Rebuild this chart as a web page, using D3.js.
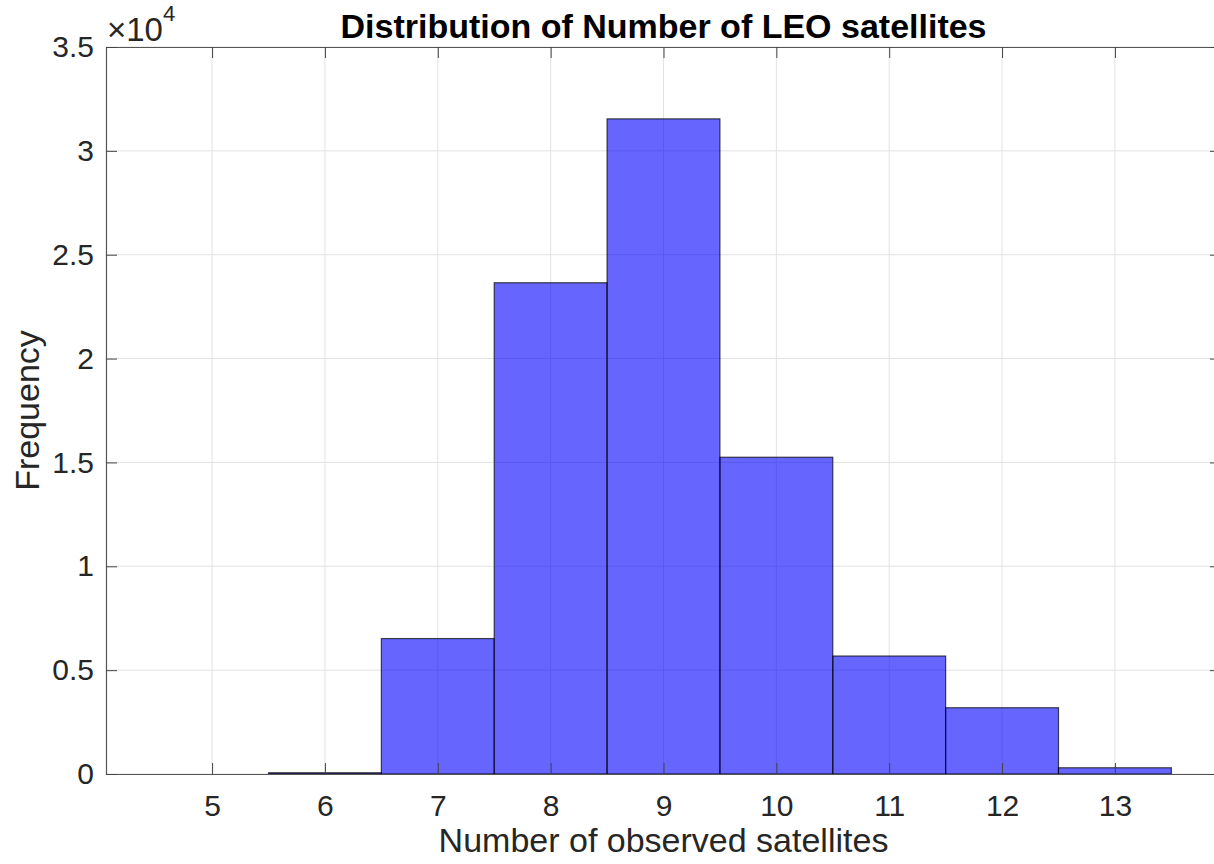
<!DOCTYPE html>
<html lang="en">
<head>
  <meta charset="UTF-8">
  <title>Distribution of Number of LEO satellites</title>
  <style>
    body { margin: 0; background: #fff; }
    svg text { font-family: "Liberation Sans", Arial, Helvetica, sans-serif; fill: #262626; }
  </style>
</head>
<body>
  <svg id="svg" width="1214" height="864"></svg>
  <script src="https://cdn.jsdelivr.net/npm/d3@7"></script>
  <script>
    // histogram bins (centres, width 1) and counts
    const binCenters = [6, 7, 8, 9, 10, 11, 12, 13]
    const counts = [60, 6520, 23650, 31540, 15250, 5680, 3190, 300]
    const xTicks = [5, 6, 7, 8, 9, 10, 11, 12, 13]
    const yTicks = [0, 5000, 10000, 15000, 20000, 25000, 30000, 35000]
    const yTickLabels = ['0', '0.5', '1', '1.5', '2', '2.5', '3', '3.5']

    const margin = { top: 47, right: -7, bottom: 90, left: 106 }
    const width = 1214 - margin.left - margin.right
    const height = 864 - margin.top - margin.bottom

    const x = d3.scaleLinear().domain([4.06, 13.94]).range([0, width])
    const y = d3.scaleLinear().domain([0, 35000]).range([height, 0])

    const svg = d3.select('#svg')
    const g = svg.append('g').attr('transform', `translate(${margin.left},${margin.top})`)

    // grid
    g.append('g').selectAll('line').data(xTicks).join('line')
      .attr('x1', d => x(d)).attr('x2', d => x(d))
      .attr('y1', 0).attr('y2', height)
      .attr('stroke', '#e2e2e2').attr('stroke-width', 1)
    g.append('g').selectAll('line').data(yTicks).join('line')
      .attr('x1', 0).attr('x2', width)
      .attr('y1', d => y(d)).attr('y2', d => y(d))
      .attr('stroke', '#e2e2e2').attr('stroke-width', 1)

    // bars
    g.append('g').selectAll('rect').data(binCenters).join('rect')
      .attr('x', d => x(d - 0.5))
      .attr('width', d => x(d + 0.5) - x(d - 0.5))
      .attr('y', (d, i) => y(counts[i]))
      .attr('height', (d, i) => height - y(counts[i]))
      .attr('fill', 'blue').attr('fill-opacity', 0.6)
      .attr('stroke', '#000').attr('stroke-opacity', 0.7).attr('stroke-width', 1.2)

    // axes, ticks pointing inward like matlab
    const styleAxis = sel => {
      sel.selectAll('path.domain').attr('stroke', '#555').attr('stroke-width', 1.2)
      sel.selectAll('.tick line').attr('stroke', '#444').attr('stroke-width', 1)
      sel.selectAll('.tick text').attr('font-size', 30).attr('fill', '#262626')
        .attr('font-family', '"Liberation Sans", Arial, sans-serif')
    }

    g.append('g').attr('transform', `translate(0,${height})`)
      .call(d3.axisBottom(x).tickValues(xTicks).tickSizeInner(-11).tickSizeOuter(0).tickPadding(21))
      .call(styleAxis)
    g.append('g')
      .call(d3.axisTop(x).tickValues(xTicks).tickSizeInner(-11).tickSizeOuter(0).tickFormat(''))
      .call(styleAxis)
    g.append('g')
      .call(d3.axisLeft(y).tickValues(yTicks).tickSizeInner(-11).tickSizeOuter(0).tickPadding(12)
        .tickFormat((d, i) => yTickLabels[i]))
      .call(styleAxis)
    g.append('g').attr('transform', `translate(${width},0)`)
      .call(d3.axisRight(y).tickValues(yTicks).tickSizeInner(-11).tickSizeOuter(0).tickFormat(''))
      .call(styleAxis)

    // exponent label
    const expo = svg.append('text').attr('x', 107).attr('y', 41).attr('font-size', 33)
    expo.append('tspan').text('×10')
    expo.append('tspan').attr('dy', -20).attr('font-size', 22).text('4')

    // title and labels
    svg.append('text')
      .attr('x', margin.left + width / 2).attr('y', 38)
      .attr('text-anchor', 'middle')
      .attr('font-size', 34).attr('font-weight', 'bold')
      .style('fill', '#000')
      .text('Distribution of Number of LEO satellites')

    svg.append('text')
      .attr('x', margin.left + width / 2).attr('y', 852)
      .attr('text-anchor', 'middle').attr('font-size', 34)
      .text('Number of observed satellites')

    svg.append('text')
      .attr('transform', `translate(39,${margin.top + height / 2}) rotate(-90)`)
      .attr('text-anchor', 'middle').attr('font-size', 34)
      .text('Frequency')
  </script>
</body>
</html>
